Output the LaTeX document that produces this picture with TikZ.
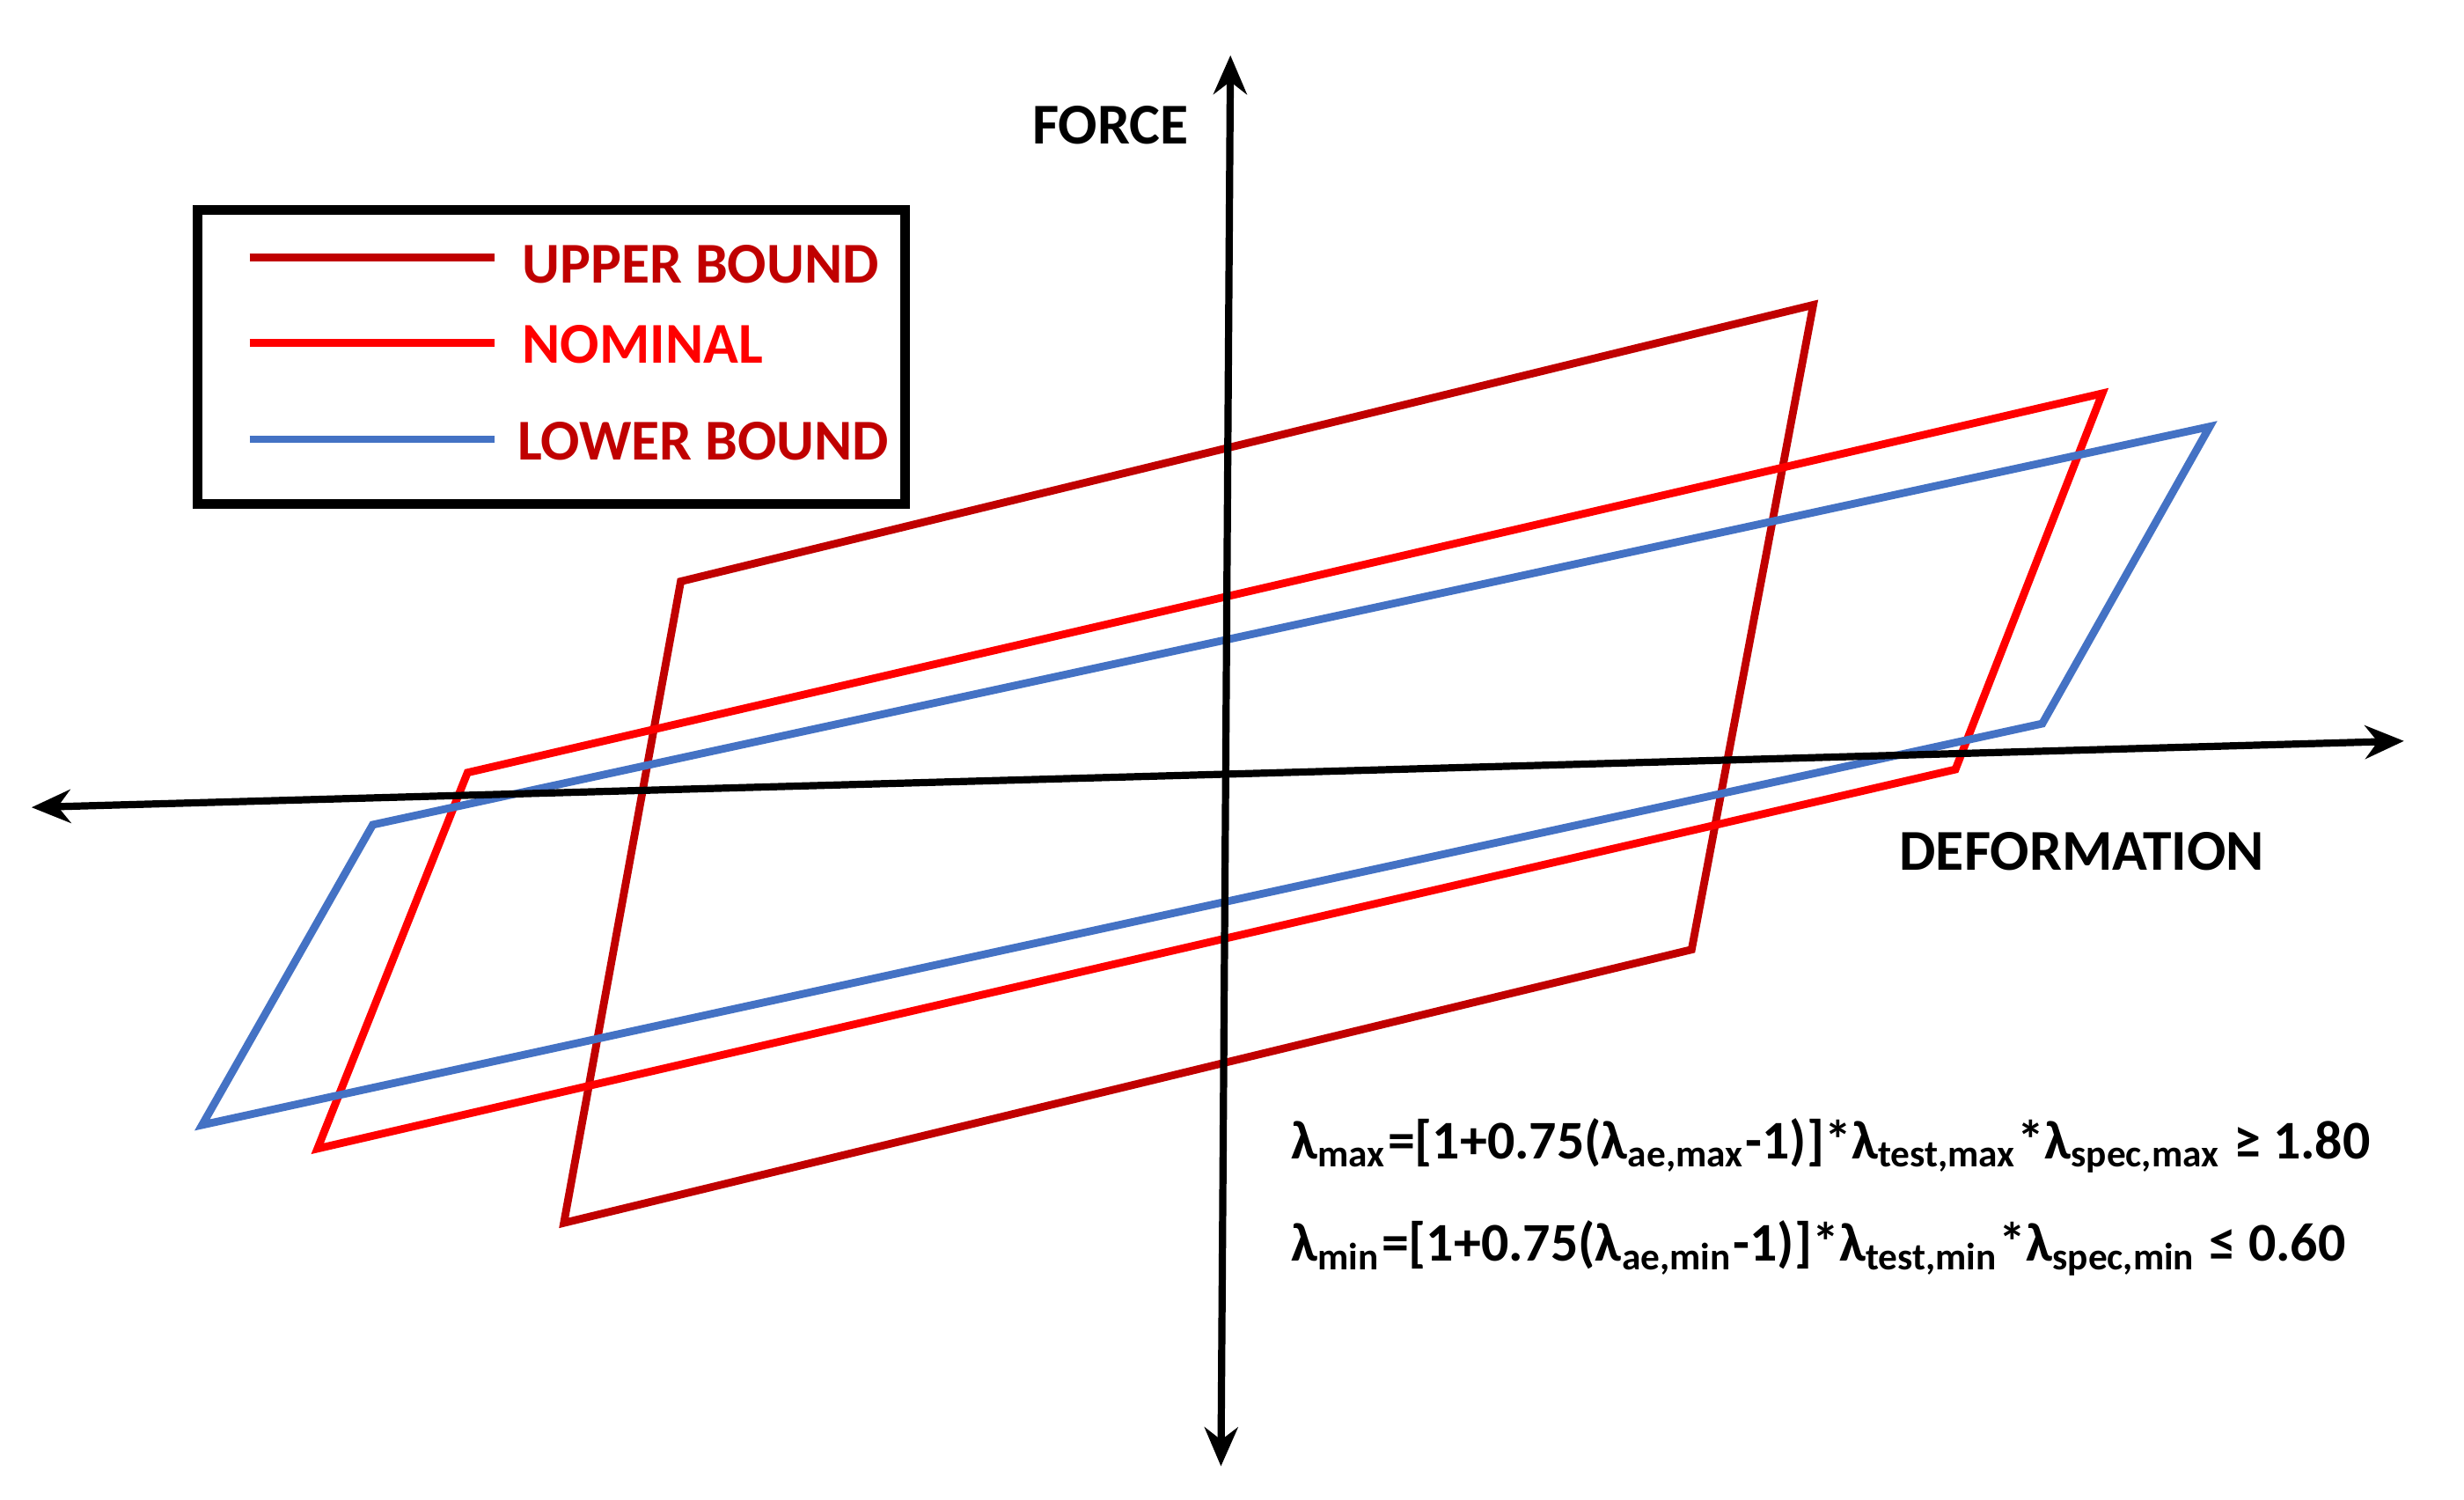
\documentclass[tikz,border=0pt]{standalone}
\usepackage{fontspec}
\setmainfont{Carlito}
\usetikzlibrary{arrows.meta}
\definecolor{ub}{HTML}{C00000}
\definecolor{nom}{HTML}{FF0000}
\definecolor{lb}{HTML}{4472C4}
\begin{document}
\begin{tikzpicture}[x=0.01cm,y=-0.01cm,
  loop/.style={line width=1.4pt, line join=miter},
  ax/.style={line width=1.3pt, -{Stealth[length=7pt,width=6pt]}},
  lbl/.style={font=\fontsize{10.4}{12}\selectfont\bfseries, inner sep=0pt},
  eq/.style={font=\fontsize{9.8}{12}\selectfont\bfseries, inner sep=0pt, anchor=west}]
\useasboundingbox (0,0) rectangle (1560,949);
% loops
\draw[loop,ub] (431,368) -- (1148,193) -- (1071,601) -- (357,774) -- cycle;
\draw[loop,nom] (296,489) -- (1331,249) -- (1238,487) -- (201,727) -- cycle;
\draw[loop,lb] (236,522) -- (1399,270) -- (1293,458) -- (128,712) -- cycle;
% axes
\coordinate (xl) at (20,511); \coordinate (xr) at (1522,469);
\coordinate (yb) at (773,928); \coordinate (yt) at (779,35);
\coordinate (o) at (776,490);
\draw[ax] (o) -- (xr); \draw[ax] (o) -- (xl);
\draw[ax] (o) -- (yt); \draw[ax] (o) -- (yb);
\node[lbl] (force) at (703,79) {FORCE};
\node[lbl] (def) at (1318,539) {DEFORMATION};
% legend
\draw[line width=1.7pt] (125,133) rectangle (573,319);
\draw[loop,ub] (158,163) -- (313,163);
\draw[loop,nom] (158,217) -- (313,217);
\draw[loop,lb] (158,278) -- (313,278);
\node[lbl,ub,anchor=west] (l1) at (330,167) {UPPER BOUND};
\node[lbl,nom,anchor=west] (l2) at (330,218) {NOMINAL};
\node[lbl,ub,anchor=west] (l3) at (327,279) {LOWER BOUND};
% formulas
\node[eq] (f1) at (817,725) {λ\textsubscript{max}=[1+0.75(λ\textsubscript{ae,max}-1)]*λ\textsubscript{test,max}*λ\textsubscript{spec,max} ≥ 1.80};
\node[eq] (f2) at (817,790) {λ\textsubscript{min}=[1+0.75(λ\textsubscript{ae,min}-1)]*λ\textsubscript{test,min}*λ\textsubscript{spec,min} ≤ 0.60};
\end{tikzpicture}
\end{document}
